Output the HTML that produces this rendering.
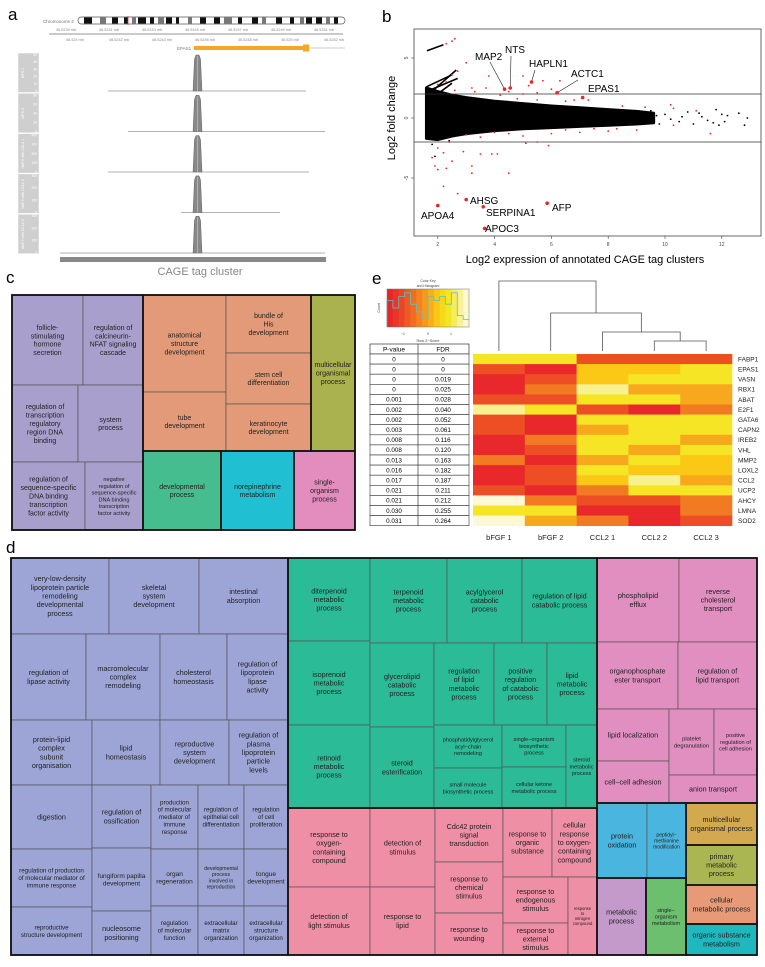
<!DOCTYPE html>
<html><head><meta charset="utf-8"><style>
body{margin:0;background:#fff}
svg{display:block;font-family:"Liberation Sans",Arial,sans-serif}
</style></head><body>
<svg id="fig" width="765" height="967" viewBox="0 0 765 967" xmlns="http://www.w3.org/2000/svg">
<text x="8" y="20" font-size="17">a</text>
<text x="382" y="22" font-size="17">b</text>
<text x="6" y="283" font-size="17">c</text>
<text x="372" y="284" font-size="17">e</text>
<text x="6" y="553" font-size="17">d</text>

<g id="pa">
  <text x="43" y="23" font-size="4.5" fill="#777">Chromosome 2</text>
  <rect x="78" y="17" width="267" height="7" rx="3.5" fill="#fff" stroke="#555" stroke-width="0.7"/>
  <g id="bands"></g>
  <line x1="128" y1="16" x2="128" y2="25" stroke="#e33" stroke-width="0.8"/>
  <line x1="49" y1="34" x2="343" y2="34" stroke="#aaa" stroke-width="1.2"/>
  <g id="axlab" font-size="3.8" fill="#888"></g>
  <text x="177" y="50" font-size="4.5" fill="#777">EPAS1</text>
  <rect x="194" y="46" width="112" height="4" fill="#f5a623"/>
  <rect x="303" y="44.5" width="6" height="7" fill="#f5a623"/>
  <line x1="309" y1="48" x2="345" y2="48" stroke="#999" stroke-width="0.5"/>
  <g id="tracks"></g>
  <rect x="60" y="257" width="266" height="5" fill="#888"/>
  <text x="200" y="275" font-size="11" fill="#888" text-anchor="middle">CAGE tag cluster</text>
</g>

<g id="pb">
  <rect x="414" y="29" width="347" height="207" fill="none" stroke="#444" stroke-width="0.8"/>
  <g id="bplot"></g>
  <text transform="translate(395,118) rotate(-90)" font-size="11" text-anchor="middle">Log2 fold change</text>
  <text x="585" y="263" font-size="11" text-anchor="middle">Log2 expression of annotated CAGE tag clusters</text>
</g>

<g id="pc"></g>

<g id="pe">
  <text x="428" y="282" font-size="3.5" text-anchor="middle" fill="#444">Color Key</text>
  <text x="428" y="287" font-size="3.5" text-anchor="middle" fill="#444">and Histogram</text>
  <g id="ckey"></g>
  <text transform="translate(380,308) rotate(-90)" font-size="3.5" text-anchor="middle" fill="#444">Count</text>
  <text x="428" y="342" font-size="3.8" text-anchor="middle" fill="#444">Row Z−Score</text>
  <g id="etable"></g>
  <g id="dendro" stroke="#555" stroke-width="0.8" fill="none"></g>
  <g id="heat"></g>
</g>

<g id="pd"></g>
</svg>
<script>
const NS='http://www.w3.org/2000/svg';
function mk(parent,tag,attrs){const e=document.createElementNS(NS,tag);for(const k in attrs)e.setAttribute(k,attrs[k]);parent.appendChild(e);return e;}

/* ---------- panel a ---------- */
const bandStarts=[84,100,112,124,132,138,150,158,166,176,188,200,214,224,238,252,262,276,290,300,306,316,326,334];
const bandWidths=[8,6,6,4,4,8,4,6,6,3,4,6,6,8,4,6,4,6,4,4,6,6,4,4];
const bandsG=document.getElementById('bands');
bandStarts.forEach((s,i)=>{const r=mk(bandsG,'rect',{x:s,y:17.4,width:bandWidths[i],height:6.2,fill:(i%3===1?'#777':'#111')});

});
const axTop=['46.5239 mb','46.5241 mb','46.5243 mb','46.5245 mb','46.5247 mb','46.5249 mb','46.5251 mb'];
const axBot=['46.524 mb','46.5242 mb','46.5244 mb','46.5246 mb','46.5248 mb','46.525 mb','46.5252 mb'];
const axG=document.getElementById('axlab');
axTop.forEach((t,i)=>{const e=mk(axG,'text',{x:56+i*43,y:31});e.textContent=t;

});
axBot.forEach((t,i)=>{const e=mk(axG,'text',{x:66+i*43,y:41});e.textContent=t;

});
const trackNames=['MPS 1','MPS 2','hMPS with CCL2 1','hMPS with CCL2 2','hMPS with CCL2 3'];
const trackMax=[50,80,400,300,300];
const trackTicks=[[0,10,20,30,40,50],[0,20,40,60,80],[0,100,200,300,400],[0,100,200,300],[0,100,200,300]];
const trackStart=[108,128,108,181,60];
const trackEnd=[306,325,309,280,325];
const trG=document.getElementById('tracks');
trackNames.forEach((n,i)=>{
  const top=53+40.3*i, base=91+40.5*i;
  const sb=mk(trG,'rect',{x:18,y:top,width:21,height:39.5,fill:'#cfcfcf',stroke:'#fff','stroke-width':0.5});
  
  
  const lt=mk(trG,'text',{transform:`translate(24,${top+20}) rotate(-90)`,'font-size':3.5,fill:'#fff','text-anchor':'middle'});lt.textContent=n;
  
  
  const sc=(base-top-2)/trackMax[i];
  trackTicks[i].forEach(v=>{const tt=mk(trG,'text',{x:37,y:base-v*sc+1,'font-size':3.3,fill:'#fff','text-anchor':'end'});tt.textContent=v;
  
  });
  const bl=mk(trG,'line',{x1:trackStart[i],y1:base,x2:trackEnd[i],y2:base,stroke:'#999','stroke-width':0.7});
  
  
  const pk=mk(trG,'polygon',{points:`193,${base} 194.5,${top+6} 196,${top+2} 199,${top+2} 200.5,${top+6} 202,${base}`,fill:'#888',stroke:'#666','stroke-width':0.5});
  
  
  const pl=mk(trG,'line',{x1:197.5,y1:top+3,x2:197.5,y2:base,stroke:'#bbb','stroke-width':0.8});
  
  
});

/* ---------- panel b ---------- */
const envX=[1.6,2,2.5,3,4,5,6,7,8,9,9.6];
const envUpper=[2.5,2.2,1.9,1.7,1.4,1.2,1.0,0.85,0.7,0.55,0.4];
const envLower=[-1.7,-1.8,-1.5,-1.3,-1.05,-0.9,-0.8,-0.7,-0.6,-0.5,-0.4];
const streakX1=[1.62,1.6,1.6,1.6,1.6];
const streakY1=[5.6,2.6,1.8,1.3,2.2];
const streakX2=[2.2,2.5,2.65,2.5,2.7];
const streakY2=[6.1,3.6,4.0,2.9,3.3];
const blackX=[9.5,9.8,10.0,10.5,10.8,11.0,11.3,11.5,11.8,11.9,12.0,12.2,12.6,12.8,12.9,10.6,11.2,11.7,12.1,9.7,10.2,1.8,1.9,2.4];
const blackY=[0.6,-0.5,0.3,-0.3,0.5,-0.5,0.1,-0.2,0.7,-0.6,0.3,0.2,0.4,-0.6,0.0,0.1,0.4,-0.4,-0.3,0.2,-0.1,-2.2,-3.2,-1.9];
const redX=[2.3,2.5,2.6,3.0,2.5,2.7,3.8,5.0,5.2,5.7,6.3,3.2,3.7,4.5,5.0,5.5,2.0,2.3,6.0,7.3,6.8,8.5,9.3,10.2,10.3,11.1,11.6,10.3,9.0,8.0,7.0,6.0,5.0,5.1,5.5,5.9,4.0,3.0,2.0,2.2,2.4,1.8,1.9,2.0,2.5,2.3,2.9,3.5,3.9,4.1,3.2,3.2,4.5,2.2,2.7,2.6,3.3,4.2,4.8,5.5,6.5,3.5,4.5,6.5,7.5,8.3];
const redY=[6.2,6.4,6.6,4.6,3.6,3.9,3.5,3.5,2.7,3.1,3.1,2.5,2.5,2.2,2.0,2.1,2.8,3.0,2.4,1.5,1.5,1.0,0.9,1.1,0.8,0.6,-1.3,-0.6,-1.0,-1.1,-1.2,-1.3,-1.5,-2.1,-2.0,-2.3,-1.2,-1.4,-2.5,-2.9,-2.0,-3.3,-4.0,-4.3,-3.6,-4.2,-2.8,-3.0,-3.0,-3.0,-4.0,-4.6,-4.6,-5.7,-6.3,2.3,2.2,1.9,1.6,1.5,1.4,-1.6,-1.3,-1.0,-0.9,-0.9];
const geneNames=['MAP2','NTS','HAPLN1','ACTC1','EPAS1','APOA4','AHSG','SERPINA1','APOC3','AFP'];
const geneX=[4.35,4.55,5.3,6.2,7.1,2.0,3.0,3.6,3.65,5.85];
const geneY=[2.4,2.5,3.0,2.1,1.7,-7.3,-6.8,-7.4,-9.2,-7.1];
const geneLabX=[475,505,529,571,588,421,470,486,485,552];
const geneLabY=[60,53,67,77,92,219,204,216,232,211];
const xTicks=[2,4,6,8,10,12];
const yTicks=[-5,0,5];
const hLines=[2,-2];
const bx=v=>381+v*28.4, by=v=>118-v*12;
const bG=document.getElementById('bplot');
let pts=envX.map((x,i)=>bx(x)+','+by(envUpper[i])).concat(envX.slice().reverse().map((x,i)=>bx(x)+','+by(envLower[envX.length-1-i])));
const env=mk(bG,'polygon',{points:pts.join(' '),fill:'#000',stroke:'#000','stroke-width':3,'stroke-linejoin':'round'});


streakX1.forEach((x,i)=>{const l=mk(bG,'line',{x1:bx(x),y1:by(streakY1[i]),x2:bx(streakX2[i]),y2:by(streakY2[i]),stroke:'#000','stroke-width':1.6});

});
blackX.forEach((x,i)=>{const c=mk(bG,'circle',{cx:bx(x),cy:by(blackY[i]),r:0.9,fill:'#000'});

});
hLines.forEach(v=>{const l=mk(bG,'line',{x1:414,y1:by(v),x2:761,y2:by(v),stroke:'#333','stroke-width':0.8});

});
redX.forEach((x,i)=>{const c=mk(bG,'circle',{cx:bx(x),cy:by(redY[i]),r:0.9,fill:'#e8262a'});

});
geneNames.forEach((g,i)=>{
  const px=bx(geneX[i]),py=by(geneY[i]);
  if(i<4){const lx=[490,511,535,578][i],ly=[62,56,70,80][i];
    const l=mk(bG,'line',{x1:lx,y1:ly,x2:px,y2:py,stroke:'#222','stroke-width':0.6});
    
    }
  const c=mk(bG,'circle',{cx:px,cy:py,r:1.8,fill:'#e8262a'});
  
  
  const t=mk(bG,'text',{x:geneLabX[i],y:geneLabY[i],'font-size':10});t.textContent=g;
  
  
});
xTicks.forEach(v=>{const l=mk(bG,'line',{x1:bx(v),y1:236,x2:bx(v),y2:239,stroke:'#444','stroke-width':0.6});


const t=mk(bG,'text',{x:bx(v),y:246,'font-size':5,'text-anchor':'middle',fill:'#444'});t.textContent=v;

});
yTicks.forEach(v=>{const l=mk(bG,'line',{x1:411,y1:by(v),x2:414,y2:by(v),stroke:'#444','stroke-width':0.6});


const t=mk(bG,'text',{transform:`translate(408,${by(v)}) rotate(-90)`,'font-size':5,'text-anchor':'middle',fill:'#444'});t.textContent=v;

});

/* ---------- treemap helper ---------- */
function treemap(gid,cells,groups,fs){
  const g=document.getElementById(gid);
  cells.forEach(c=>{
    const [x1,y1,x2,y2,col,label,f]=c;
    const r=mk(g,'rect',{x:x1,y:y1,width:x2-x1,height:y2-y1,fill:col,stroke:'#555','stroke-width':0.7});
    
    
    const lines=label.split('|');const s=f||fs;const lh=s*1.2;
    const t=mk(g,'text',{x:(x1+x2)/2,y:(y1+y2)/2-(lines.length-1)*lh/2+s*0.35,'font-size':s,'text-anchor':'middle',fill:'#222'});
    
    
    lines.forEach((ln,i)=>{const ts=mk(t,'tspan',{x:(x1+x2)/2,dy:i?lh:0});ts.textContent=ln;});
  });
  groups.forEach(b=>{const r=mk(g,'rect',{x:b[0],y:b[1],width:b[2]-b[0],height:b[3]-b[1],fill:'none',stroke:'#111','stroke-width':1.6});
  
  });
}
const CB='#a99fcc',CO='#e39a78',COL='#a9b24f',CG='#45bd8e',CC='#20bfd2',CP='#e38cbe';
treemap('pc',[
 [12,295,83,385,CB,'follicle-|stimulating|hormone|secretion'],
 [83,295,143,385,CB,'regulation of|calcineurin-|NFAT signaling|cascade'],
 [12,385,78,462,CB,'regulation of|transcription|regulatory|region DNA|binding'],
 [78,385,143,462,CB,'system|process'],
 [12,462,85,530,CB,'regulation of|sequence-specific|DNA binding|transcription|factor activity'],
 [85,462,143,530,CB,'negative|regulation of|sequence-specific|DNA binding|transcription|factor activity',5.6],
 [143,295,226,392,CO,'anatomical|structure|development'],
 [143,392,226,451,CO,'tube|development'],
 [226,295,311,353,CO,'bundle of|His|development'],
 [226,353,311,404,CO,'stem cell|differentiation'],
 [226,404,311,451,CO,'keratinocyte|development'],
 [311,295,355,451,COL,'multicellular|organismal|process'],
 [143,451,221,530,CG,'developmental|process'],
 [221,451,294,530,CC,'norepinephrine|metabolism'],
 [294,451,355,530,CP,'single-|organism|process']
],[[12,295,143,530],[143,295,311,451],[311,295,355,451],[143,451,221,530],[221,451,294,530],[294,451,355,530],[12,295,355,530]],7);

const DB='#9ca5d6',DG='#2bbb97',DP='#ef8fa6',DR='#e08fc0';
treemap('pd',[
 [11,558,109,634,DB,'very-low-density|lipoprotein particle|remodeling|developmental|process'],
 [109,558,199,634,DB,'skeletal|system|development'],
 [199,558,288,634,DB,'intestinal|absorption'],
 [11,634,86,720,DB,'regulation of|lipase activity'],
 [86,634,160,720,DB,'macromolecular|complex|remodeling'],
 [160,634,227,720,DB,'cholesterol|homeostasis'],
 [227,634,288,720,DB,'regulation of|lipoprotein|lipase|activity'],
 [11,720,92,785,DB,'protein-lipid|complex|subunit|organisation'],
 [92,720,160,785,DB,'lipid|homeostasis'],
 [160,720,229,785,DB,'reproductive|system|development'],
 [229,720,288,785,DB,'regulation of|plasma|lipoprotein|particle|levels'],
 [11,785,92,849,DB,'digestion'],
 [11,849,92,907,DB,'regulation of production|of molecular mediator of|immune response',6.2],
 [11,907,92,955,DB,'reproductive|structure development',6.2],
 [92,785,151,848,DB,'regulation of|ossification'],
 [92,848,151,911,DB,'fungiform papilla|development',6.5],
 [92,911,151,955,DB,'nucleosome|positioning'],
 [151,785,198,849,DB,'production|of molecular|mediator of|immune|response',6.2],
 [151,849,198,906,DB,'organ|regeneration',6.5],
 [151,906,198,955,DB,'regulation|of molecular|function',6.2],
 [198,785,244,849,DB,'regulation of|epithelial cell|differentiation',6.2],
 [198,849,244,906,DB,'developmental|process|involved in|reproduction',5.2],
 [198,906,244,955,DB,'extracellular|matrix|organization',6.2],
 [244,785,288,849,DB,'regulation|of cell|proliferation',6.2],
 [244,849,288,906,DB,'tongue|development',6.5],
 [244,906,288,955,DB,'extracellular|structure|organization',6.2],
 [288,558,370,641,DG,'diterpenoid|metabolic|process'],
 [288,641,370,725,DG,'isoprenoid|metabolic|process'],
 [288,725,370,808,DG,'retinoid|metabolic|process'],
 [370,558,447,643,DG,'terpenoid|metabolic|process'],
 [447,558,522,643,DG,'acylglycerol|catabolic|process'],
 [522,558,597,643,DG,'regulation of lipid|catabolic process'],
 [370,643,434,727,DG,'glycerolipid|catabolic|process'],
 [370,727,434,808,DG,'steroid|esterification'],
 [434,643,494,725,DG,'regulation|of lipid|metabolic|process'],
 [494,643,547,725,DG,'positive|regulation|of catabolic|process'],
 [547,643,597,725,DG,'lipid|metabolic|process'],
 [434,725,502,768,DG,'phosphatidylglycerol|acyl−chain|remodeling',5.6],
 [434,768,502,808,DG,'small molecule|biosynthetic process',5.6],
 [502,725,566,767,DG,'single−organism|biosynthetic|process',5.6],
 [502,767,566,808,DG,'cellular ketone|metabolic process',5.6],
 [566,725,597,808,DG,'steroid|metabolic|process',5.6],
 [288,808,370,887,DP,'response to|oxygen-|containing|compound'],
 [288,887,370,955,DP,'detection of|light stimulus'],
 [370,808,435,887,DP,'detection of|stimulus'],
 [370,887,435,955,DP,'response to|lipid'],
 [435,808,503,862,DP,'Cdc42 protein|signal|transduction'],
 [435,862,503,913,DP,'response to|chemical|stimulus'],
 [435,913,503,955,DP,'response to|wounding'],
 [503,808,552,877,DP,'response to|organic|substance'],
 [552,808,597,877,DP,'cellular|response|to oxygen-|containing|compound'],
 [503,877,568,923,DP,'response to|endogenous|stimulus'],
 [503,923,568,955,DP,'response to|external|stimulus'],
 [568,877,597,955,DP,'response|to|nitrogen|compound',4.2],
 [597,558,679,642,DR,'phospholipid|efflux'],
 [679,558,757,642,DR,'reverse|cholesterol|transport'],
 [597,642,678,709,DR,'organophosphate|ester transport'],
 [678,642,757,709,DR,'regulation of|lipid transport'],
 [597,709,669,761,DR,'lipid localization'],
 [597,761,669,803,DR,'cell−cell adhesion'],
 [669,709,714,775,DR,'platelet|degranulation',5.8],
 [714,709,757,775,DR,'positive|regulation of|cell adhesion',5.6],
 [669,775,757,803,DR,'anion transport'],
 [597,803,647,878,'#4ab6e0','protein|oxidation'],
 [647,803,686,878,'#4ab6e0','peptidyl−|methionine|modification',5],
 [597,878,646,955,'#c39ac9','metabolic|process'],
 [646,878,686,955,'#6cbf6f','single−|organism|metabolism',5.5],
 [686,803,757,845,'#d2a94f','multicellular|organismal process'],
 [686,845,757,885,'#a9b651','primary|metabolic|process'],
 [686,885,757,924,'#e69a78','cellular|metabolic process'],
 [686,924,757,955,'#20b8bf','organic substance|metabolism']
],[[11,558,288,955],[288,558,597,808],[288,808,597,955],[597,558,757,803],[597,803,686,878],[597,878,646,955],[646,878,686,955],[686,803,757,845],[686,845,757,885],[686,885,757,924],[686,924,757,955],[11,558,757,955]],7.2);

/* ---------- panel e ---------- */
const genes=['FABP1','EPAS1','VASN','RBX1','ABAT','E2F1','GATA6','CAPN2','IREB2','VHL','MMP2','LOXL2','CCL2','UCP2','AHCY','LMNA','SOD2'];
const pvals=['0','0','0','0','0.001','0.002','0.002','0.003','0.008','0.008','0.013','0.016','0.017','0.021','0.021','0.030','0.031'];
const fdrs=['0','0','0.019','0.025','0.028','0.040','0.052','0.061','0.116','0.120','0.163','0.182','0.187','0.211','0.212','0.255','0.264'];
const samples=['bFGF 1','bFGF 2','CCL2 1','CCL2 2','CCL2 3'];
const levels=[
 [5,5,1,1,1],[1,0,4,4,5],[0,1,4,5,5],[0,2,6,3,3],[1,1,5,5,3],[6,5,1,0,2],[1,0,5,5,5],[1,0,3,5,5],
 [0,2,5,5,3],[0,1,5,3,5],[2,0,3,5,4],[0,1,5,4,4],[0,1,4,6,3],[1,0,2,5,5],[7,2,1,1,2],[5,5,0,0,2],[7,3,2,0,1]];
const palette=['#e8282a','#ee4e24','#f27a22','#f8a81c','#fbc816','#f5e524','#f8f28e','#fdf9d6'];
const histCounts=[7,5,8,9,6,4,2,8,7,8,6,9,3,2];
const heat=document.getElementById('heat');
const hx0=473,hy0=354,cw=51.8,rh=10.1;
levels.forEach((row,r)=>{row.forEach((v,c)=>{const e=mk(heat,'rect',{x:hx0+c*cw,y:hy0+r*rh,width:cw+0.3,height:rh+0.3,fill:palette[v]});

});
const t=mk(heat,'text',{x:738,y:hy0+r*rh+rh/2+2.3,'font-size':6.5,fill:'#222'});t.textContent=genes[r];

});
samples.forEach((s,c)=>{const t=mk(heat,'text',{x:hx0+c*cw+cw/2,y:540,'font-size':7.5,'text-anchor':'middle',fill:'#222'});t.textContent=s;

});
const tb=document.getElementById('etable');
const ty0=344,trh=10.1;
const hdr=mk(tb,'rect',{x:370,y:ty0,width:99,height:10,fill:'#fff',stroke:'#333','stroke-width':0.7});


[['P-value',394],['FDR',443]].forEach(h=>{const t=mk(tb,'text',{x:h[1],y:ty0+7.5,'font-size':6.5,'text-anchor':'middle'});t.textContent=h[0];

});
pvals.forEach((p,r)=>{const y=hy0+r*trh;
 const rr=mk(tb,'rect',{x:370,y:y,width:99,height:trh,fill:'#fff',stroke:'#333','stroke-width':0.6});
 
 
 const a=mk(tb,'text',{x:394,y:y+7.3,'font-size':6.3,'text-anchor':'middle'});a.textContent=p;
 
 
 const b=mk(tb,'text',{x:443,y:y+7.3,'font-size':6.3,'text-anchor':'middle'});b.textContent=fdrs[r];
 
 });
const vl=mk(tb,'line',{x1:418,y1:ty0,x2:418,y2:hy0+17*trh,stroke:'#333','stroke-width':0.7});


const ck=document.getElementById('ckey');
const ckKeyColors=['#e8262a','#ea3528','#ec4526','#ef5a24','#f06e22','#f38520','#f69a1c','#f9b018','#fbc615','#f7d918','#f2e625','#f5ec60','#f8f29a','#fcf8d0'];
ckKeyColors.forEach((c,i)=>{const r=mk(ck,'rect',{x:387+i*5.86,y:289,width:6.2,height:38,fill:c});

});
const histMax=10;
let hp='M387,327';
histCounts.forEach((h,i)=>{const y=327-h/histMax*38;hp+=` L${387+i*5.86},${y} L${387+(i+1)*5.86},${y}`;});
const hpath=mk(ck,'path',{d:hp,fill:'none',stroke:'#5bc0c8','stroke-width':0.8});


const ckb=mk(ck,'rect',{x:387,y:289,width:82,height:38,fill:'none',stroke:'#777','stroke-width':0.5});


[['−1',403],['0',428],['1',451]].forEach(a=>{const t=mk(ck,'text',{x:a[1],y:335,'font-size':3.5,'text-anchor':'middle',fill:'#444'});t.textContent=a[0];

});
const dg=document.getElementById('dendro');
const cx=c=>hx0+c*cw+cw/2;
const dpaths=[
 `M${cx(3)},351 V341 H${cx(4)} V351`,
 `M${cx(2)},351 V332 H${(cx(3)+cx(4))/2} V341`,
 `M${cx(1)},351 V313 H${(cx(2)+(cx(3)+cx(4))/2)/2} V332`,
 `M${cx(0)},351 V281 H${(cx(1)+(cx(2)+(cx(3)+cx(4))/2)/2)/2} V313`];
dpaths.forEach(d=>{const p=mk(dg,'path',{d:d});

});
</script>
</body></html>
